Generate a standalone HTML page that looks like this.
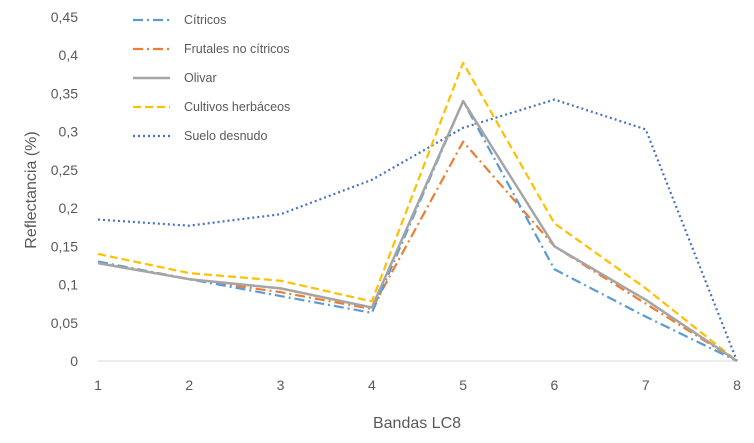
<!DOCTYPE html>
<html><head><meta charset="utf-8"><style>
body{margin:0;background:#fff;font-family:"Liberation Sans",sans-serif}
svg text{font-family:"Liberation Sans",sans-serif;fill:#595959}
</style></head><body>
<svg width="754" height="438" id="c"></svg>
<script>
const bands=[1,2,3,4,5,6,7,8];
const yTicks=[0,0.05,0.1,0.15,0.2,0.25,0.3,0.35,0.4,0.45];
const yTickLabels=["0","0,05","0,1","0,15","0,2","0,25","0,3","0,35","0,4","0,45"];
const citricos=[0.13,0.107,0.085,0.063,0.34,0.12,0.058,0];
const frutales=[0.13,0.107,0.09,0.068,0.287,0.15,0.075,0];
const olivar=[0.128,0.107,0.095,0.07,0.34,0.15,0.08,0];
const herbaceos=[0.14,0.115,0.105,0.078,0.39,0.18,0.095,0];
const suelo=[0.185,0.177,0.192,0.237,0.305,0.342,0.303,0];
const seriesNames=["Cítricos","Frutales no cítricos","Olivar","Cultivos herbáceos","Suelo desnudo"];
const svg=document.getElementById('c');const NS='http://www.w3.org/2000/svg';
const x=v=>98+(v-1)*(737-98)/7;
const y=v=>361-v*(361-17)/0.45;
function el(t,a,p){const e=document.createElementNS(NS,t);for(const k in a)e.setAttribute(k,a[k]);(p||svg).appendChild(e);return e;}
const ax=el('line',{x1:98,x2:737,y1:361,y2:361,stroke:'#d9d9d9','stroke-width':1});


yTicks.forEach((t,i)=>{const tx=el('text',{x:78,y:y(t)+5,'text-anchor':'end','font-size':14});tx.textContent=yTickLabels[i];

});
bands.forEach(b=>{const tx=el('text',{x:x(b),y:390,'text-anchor':'middle','font-size':14});tx.textContent=b;

});
const xt=el('text',{x:417,y:428,'text-anchor':'middle','font-size':16});xt.textContent='Bandas LC8';


const yt=el('text',{x:36,y:190,'text-anchor':'middle','font-size':16,transform:'rotate(-90 36 190)'});yt.textContent='Reflectancia (%)';


const styles=[
 {c:'#5b9bd5',d:'10 4 2 4',w:2.2},
 {c:'#ed7d31',d:'10 4 2 4',w:2.2},
 {c:'#a5a5a5',d:'',w:2.5},
 {c:'#ffc000',d:'8 4',w:2.2},
 {c:'#4472c4',d:'2 3',w:2.2}];
const data=[citricos,frutales,olivar,herbaceos,suelo];
const order=[4,3,1,0,2];
order.forEach(i=>{const s=styles[i];const pts=data[i].map((v,j)=>x(bands[j])+','+y(v)).join(' ');
const p=el('polyline',{points:pts,fill:'none',stroke:s.c,'stroke-width':s.w,'stroke-dasharray':s.d,'stroke-linejoin':'round'});

});
seriesNames.forEach((n,i)=>{const s=styles[i];const ly=20+i*29;
const g=el('g',{});


el('line',{x1:133,x2:170,y1:ly,y2:ly,stroke:s.c,'stroke-width':s.w,'stroke-dasharray':s.d},g);
const t=el('text',{x:184,y:ly+4,'font-size':12.5},g);t.textContent=n;});
</script>
</body></html>
